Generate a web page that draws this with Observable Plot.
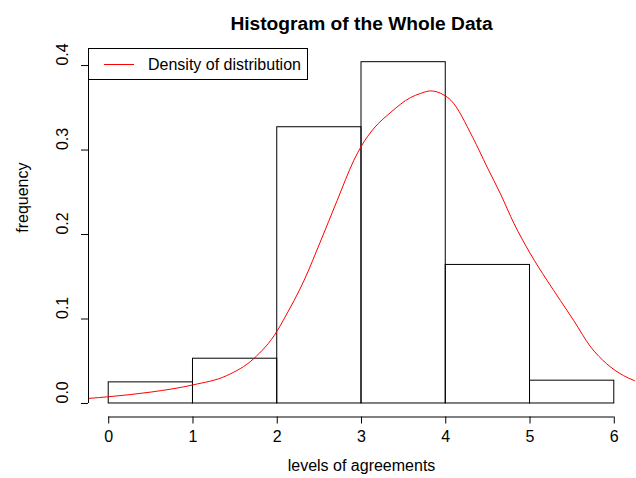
<!DOCTYPE html>
<html>
<head>
<meta charset="utf-8">
<script src="https://cdn.jsdelivr.net/npm/d3@7"></script>
<script src="https://cdn.jsdelivr.net/npm/@observablehq/plot@0.6"></script>
<style>
  html, body { margin: 0; padding: 0; background: #fff; }
  #wrap { position: relative; width: 636px; height: 478px; font-family: "Liberation Sans", Arial, sans-serif; }
  #legend { position: absolute; left: 88px; top: 48px; width: 218px; height: 30px; border: 1px solid #000; background: #fff; box-sizing: content-box; }
  #legend .sw { position: absolute; left: 15px; top: 15px; width: 30px; height: 0; border-top: 1px solid #ff0000; }
  #legend .lt { position: absolute; left: 59px; top: 0; line-height: 31px; font-size: 16px; color: #000; white-space: nowrap; }
</style>
</head>
<body>
<div id="wrap"></div>
<script>
// Histogram bins (levels of agreements) and their density heights
const binStart = [0, 1, 2, 3, 4, 5];
const binEnd   = [1, 2, 3, 4, 5, 6];
const binFreq  = [0.025, 0.053, 0.327, 0.404, 0.164, 0.027];

// Density curve
const densX = [-0.24, 0, 0.5, 1.0, 1.4, 1.72, 2.0, 2.08, 2.32, 2.51, 2.71, 2.91, 3.0, 3.15, 3.34, 3.58, 3.7, 3.82, 3.98, 4.06, 4.32, 4.49, 4.65, 4.81, 5.0, 5.2, 5.36, 5.52, 5.72, 5.91, 6.11, 6.24];
const densY = [0.006, 0.008, 0.0135, 0.022, 0.033, 0.053, 0.086, 0.100, 0.146, 0.191, 0.240, 0.288, 0.305, 0.326, 0.344, 0.362, 0.367, 0.370, 0.365, 0.359, 0.315, 0.280, 0.248, 0.213, 0.178, 0.146, 0.122, 0.098, 0.067, 0.047, 0.033, 0.027];

const xTicks = [0, 1, 2, 3, 4, 5, 6];
const yTicks = [0.0, 0.1, 0.2, 0.3, 0.4];
const xDomain = [-0.24, 6.24];
const yDomain = [-0.016, 0.4202];

const bins = binStart.map((s, i) => ({x1: s, x2: binEnd[i], freq: binFreq[i]}));
const dens = densX.map((x, i) => ({x, y: densY[i]}));

const chart = Plot.plot({
  width: 636,
  height: 478,
  marginLeft: 88,
  marginRight: 2,
  marginTop: 48,
  marginBottom: 61.5,
  style: {fontFamily: "'Liberation Sans', Arial, sans-serif", fontSize: "16px", background: "#fff", color: "#000"},
  x: {domain: xDomain},
  y: {domain: yDomain},
  marks: [
    Plot.rect(bins, {x1: "x1", x2: "x2", y1: () => 0, y2: "freq", fill: "none", stroke: "#000", strokeWidth: 1}),
    Plot.line(dens, {x: "x", y: "y", stroke: "#ff0000", strokeWidth: 1, curve: "monotone-x"}),
    // x axis
    Plot.ruleY([yDomain[0]], {x1: xTicks[0], x2: xTicks[xTicks.length - 1], stroke: "#000"}),
    Plot.axisX({ticks: xTicks, tickSize: 7, tickPadding: 7, fontSize: 16, label: null, tickFormat: d => String(d)}),
    Plot.text(["levels of agreements"], {frameAnchor: "bottom", dy: 54, fontSize: 16, fill: "#000"}),
    // y axis
    Plot.ruleX([xDomain[0]], {y1: yTicks[0], y2: yTicks[yTicks.length - 1], stroke: "#000"}),
    Plot.axisY({ticks: yTicks, tickSize: 7, tickFormat: () => "", label: null}),
    Plot.text(yTicks, {y: d => d, frameAnchor: "left", dx: -26, rotate: -90, text: d => d.toFixed(1), fontSize: 16, fill: "#000"}),
    Plot.text(["frequency"], {frameAnchor: "left", dx: -66, rotate: -90, fontSize: 16, fill: "#000"}),
    // title
    Plot.text(["Histogram of the Whole Data"], {frameAnchor: "top", dy: -32, fontSize: 19.2, fontWeight: "bold", fill: "#000"})
  ]
});

const wrap = document.getElementById("wrap");
wrap.appendChild(chart);
const legend = document.createElement("div");
legend.id = "legend";
legend.innerHTML = '<div class="sw"></div><div class="lt">Density of distribution</div>';
wrap.appendChild(legend);
</script>
</body>
</html>
